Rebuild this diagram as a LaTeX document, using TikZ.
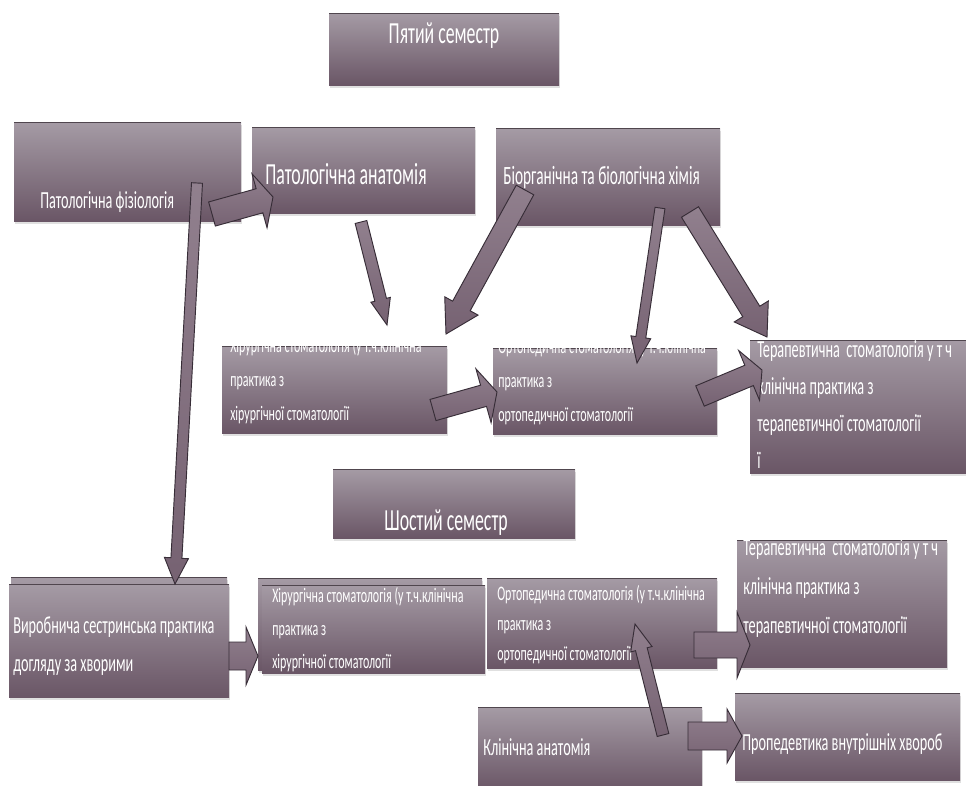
\documentclass[tikz,border=0pt]{standalone}
\usepackage{fontspec}
\newfontfamily\boxfont[FakeStretch=0.58]{Carlito}
\usepackage{tikz}
\usetikzlibrary{calc, fit, shadows}

\definecolor{boxtop}{RGB}{165,155,165}
\definecolor{boxmid}{RGB}{130,110,126}
\definecolor{boxbot}{RGB}{106,86,102}
\definecolor{boxedge}{RGB}{80,70,78}
\definecolor{arrowtop}{RGB}{145,128,142}
\definecolor{arrowfill}{RGB}{118,98,114}
\definecolor{arrowline}{RGB}{55,45,55}

\newcommand{\bigtxt}{\boxfont\fontsize{23}{28}\selectfont}
\newcommand{\midtxt}[1]{\boxfont\fontsize{18.4}{#1}\selectfont}
\newcommand{\smalltxt}[1]{\boxfont\fontsize{15.5}{#1}\selectfont}
% block arrow: tail, tip, shaft half width, head half width, head length (px)
\newcommand{\blockarrow}[5]{%
  \coordinate (ba) at ($(#2)!#5*0.75pt!(#1)$);
  \draw[blockarr] ($(#1)!#3*0.75pt!90:(#2)$) -- ($(ba)!#3*0.75pt!-90:(#1)$)
    -- ($(ba)!#4*0.75pt!-90:(#1)$) -- (#2) -- ($(ba)!#4*0.75pt!90:(#1)$)
    -- ($(ba)!#3*0.75pt!90:(#1)$) -- ($(#1)!#3*0.75pt!-90:(#2)$) -- cycle;}

\begin{document}
\begin{tikzpicture}[x=0.75pt, y=-0.75pt,
    box/.style={inner sep=0pt, top color=boxtop, middle color=boxmid, bottom color=boxbot,
      drop shadow={shadow xshift=.5pt, shadow yshift=-2pt, fill=black!30, opacity=.4},
      path picture={\draw[boxedge, line width=1pt] (path picture bounding box.north west) -- (path picture bounding box.north east);}},
    txt/.style={text=white, inner sep=0pt, align=left},
    blockarr/.style={top color=arrowtop, bottom color=arrowfill, draw=arrowline, line width=.7pt, line join=miter}]
  \fill[white] (0,0) rectangle (966,785);
  \useasboundingbox (0,0) rectangle (966,785);

  % fifth semester (multi-line texts sit on the baseline of their last line)
  \node[box, fit={(329,13) (559,85)}] (ps) {};
  \node[box, fit={(14,122) (241,221)}] (pf) {};
  \node[box, fit={(252,127) (475,213)}] (pa) {};
  \node[box, fit={(496,128) (720,225)}] (bh) {};
  \node[box, fit={(222,346) (447,433)}] (hs1) {};
  \node[box, fit={(493,348) (717,434)}] (os1) {};
  \node[box, fit={(750,340) (966,473)}] (ts1) {};

  \node[txt, font=\bigtxt, anchor=base] (ps-t) at (444,43) {Пятий семестр};
  \node[txt, font=\midtxt{22}, anchor=base west] (pf-t) at (40,208) {Патологічна фізіологія};
  \node[txt, font=\bigtxt, anchor=base west] (pa-t) at (265,184) {Патологічна анатомія};
  \node[txt, font=\boxfont\fontsize{19.8}{24}\selectfont, anchor=base west] (bh-t) at (503,184) {Біорганічна та біологічна хімія};
  \node[txt, font=\smalltxt{25.5}, anchor=base west] (hs1-t) at (230,420)
    {Хірургічна стоматологія (у т.ч.клінічна\\практика з\\хірургічної стоматології};
  \node[txt, font=\smalltxt{25.5}, anchor=base west] (os1-t) at (498,421)
    {Ортопедична стоматологія (у т.ч.клінічна\\практика з\\ортопедичної стоматології};
  \node[txt, font=\midtxt{27.75}, anchor=base west] (ts1-t) at (757,468)
    {Терапевтична\ \ стоматологія у т ч\\клінічна практика з\\терапевтичної стоматології\\ї};

  % sixth semester
  \node[box, fit={(333,469) (575,538)}] (ss) {};
  \node[box, fit={(11,577) (227,690)}] (vp-back) {};
  \node[box, fit={(9,584) (229,697)}] (vp) {};
  \node[box, fit={(258,578) (482,670)}] (hs2-back) {};
  \node[box, fit={(262,585) (485,673)}] (hs2) {};
  \node[box, fit={(487,578) (717,668)}] (os2) {};
  \node[box, fit={(737,540) (947,667)}] (ts2) {};
  \node[box, fit={(478,707) (702,790)}] (ka) {};
  \node[box, fit={(735,693) (960,780)}] (pv) {};

  \node[txt, font=\bigtxt, anchor=base] (ss-t) at (446,530) {Шостий семестр};
  \node[txt, font=\midtxt{28.5}, anchor=base west] (vp-t) at (13,671)
    {Виробнича сестринська практика\\догляду за хворими};
  \node[txt, font=\smalltxt{24.5}, anchor=base west] (hs2-t) at (272,668)
    {Хірургічна стоматологія (у т.ч.клінічна\\практика з\\хірургічної стоматології};
  \node[txt, font=\smalltxt{22.5}, anchor=base west] (os2-t) at (497,660)
    {Ортопедична стоматологія (у т.ч.клінічна\\практика з\\ортопедичної стоматології};
  \node[txt, font=\midtxt{29}, anchor=base west] (ts2-t) at (743,633)
    {Терапевтична\ \ стоматологія у т ч\\клінічна практика з\\терапевтичної стоматології};
  \node[txt, font=\midtxt{22}, anchor=base west] (ka-t) at (483,755) {Клінічна анатомія};
  \node[txt, font=\midtxt{22}, anchor=base west] (pv-t) at (742,750) {Пропедевтика внутрішніх хвороб};

  % arrow ends
  \coordinate (pf-down) at (197,183);  \coordinate (vp-in) at (175,584);
  \coordinate (pf-right) at (212,214); \coordinate (pa-in) at (273,197);
  \coordinate (pa-down) at (361,222);  \coordinate (hs1-in1) at (387,325);
  \coordinate (bh-left) at (525,190);  \coordinate (hs1-in2) at (446,334);
  \coordinate (bh-down) at (660,208);  \coordinate (os1-in1) at (637,363);
  \coordinate (bh-right) at (690,212); \coordinate (ts1-in1) at (767,337);
  \coordinate (hs1-out) at (433,410);  \coordinate (os1-in2) at (497,392);
  \coordinate (os1-out) at (700,396);  \coordinate (ts1-in2) at (762,370);
  \coordinate (vp-out) at (229,656);   \coordinate (hs2-in) at (258,656);
  \coordinate (os2-out) at (694,645);  \coordinate (ts2-in) at (750,645);
  \coordinate (ka-up) at (663,735);    \coordinate (os2-in) at (635,624);
  \coordinate (ka-out) at (688,736);   \coordinate (pv-in) at (742,736);

  \blockarrow{pf-down}{vp-in}{5.5}{12}{26}
  \blockarrow{pf-right}{pa-in}{12.5}{28}{14}
  \blockarrow{pa-down}{hs1-in1}{6}{10}{26}
  \blockarrow{bh-left}{hs1-in2}{10}{19}{32}
  \blockarrow{bh-down}{os1-in1}{5}{10}{26}
  \blockarrow{bh-right}{ts1-in1}{10}{20}{30}
  \blockarrow{hs1-out}{os1-in2}{11}{28}{14}
  \blockarrow{os1-out}{ts1-in2}{11}{27}{14}
  \blockarrow{vp-out}{hs2-in}{14}{29}{12}
  \blockarrow{os2-out}{ts2-in}{13}{33}{13}
  \blockarrow{ka-up}{os2-in}{6}{11}{26}
  \blockarrow{ka-out}{pv-in}{14}{27}{15}
\end{tikzpicture}
\end{document}
